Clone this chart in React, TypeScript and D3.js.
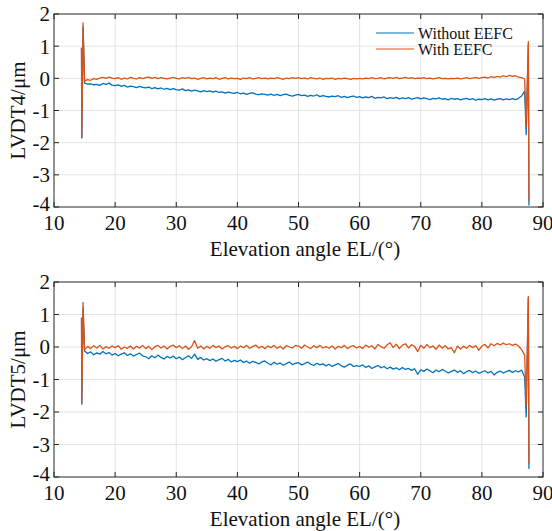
import React from 'react';
import * as d3 from 'd3';

const W = 552;
const H = 531;
const X_TICKS = [10, 20, 30, 40, 50, 60, 70, 80, 90];
const Y_TICKS = [-4, -3, -2, -1, 0, 1, 2];
const SERIES_NAMES = ['Without EEFC', 'With EEFC'];
const COLORS = ['#0072BD', '#D95319'];

// sampling grid of the flat part (15° .. 87°, every 0.5°)
const SAMPLE_ANGLES: number[] = d3.range(15, 87.001, 0.5);
const START_ANGLES = [14.5, 14.55, 14.75];
const END_ANGLES = [87.25, 87.6, 87.7];

// ---- LVDT4 ----
const T4_WITHOUT_START = [0.95, -1.85, 1.6];
const T4_WITHOUT = [
  -0.15, -0.18, -0.17, -0.2, -0.19, -0.22, -0.16, -0.19, -0.15, -0.21,
  -0.23, -0.2, -0.25, -0.22, -0.27, -0.24, -0.26, -0.29, -0.25, -0.28,
  -0.3, -0.27, -0.32, -0.29, -0.33, -0.3, -0.34, -0.31, -0.35, -0.32,
  -0.35, -0.37, -0.33, -0.38, -0.36, -0.4, -0.37, -0.39, -0.42, -0.38,
  -0.41, -0.39, -0.43, -0.4, -0.44, -0.42, -0.46, -0.43, -0.45, -0.47,
  -0.44, -0.48, -0.46, -0.5, -0.47, -0.45, -0.49, -0.51, -0.48, -0.5,
  -0.52, -0.49, -0.53, -0.5, -0.54, -0.51, -0.49, -0.53, -0.55, -0.52,
  -0.5, -0.54, -0.52, -0.56, -0.53, -0.55, -0.51, -0.57, -0.54, -0.56,
  -0.58, -0.55, -0.57, -0.54, -0.59, -0.56, -0.6, -0.57, -0.55, -0.59,
  -0.57, -0.61, -0.58, -0.6, -0.56, -0.62, -0.59, -0.61, -0.58, -0.63,
  -0.6, -0.62, -0.59, -0.64, -0.61, -0.63, -0.6, -0.65, -0.62, -0.6,
  -0.64, -0.61, -0.63, -0.66, -0.62, -0.64, -0.61, -0.65, -0.63, -0.67,
  -0.62, -0.65, -0.63, -0.67, -0.64, -0.62, -0.66, -0.63, -0.68, -0.65,
  -0.66, -0.63, -0.67, -0.64, -0.68, -0.65, -0.63, -0.67, -0.64, -0.66,
  -0.63, -0.66, -0.62, -0.55, -0.4,
];
const T4_WITHOUT_END = [-1.75, 1.05, -3.95];

const T4_WITH_START = [0.95, -1.85, 1.72];
const T4_WITH = [
  -0.08, -0.04, -0.06, -0.01, -0.03, 0.01, 0.03, 0.0, 0.04, 0.01,
  -0.01, 0.02, -0.03, 0.01, -0.02, 0.03, 0.0, -0.02, 0.02, -0.01,
  0.02, 0.04, 0.0, 0.03, -0.01, 0.02, 0.0, -0.02, 0.01, 0.03,
  0.0, -0.02, 0.02, 0.0, 0.03, -0.01, 0.01, -0.03, 0.0, 0.02,
  -0.02, 0.01, -0.01, 0.02, -0.03, 0.0, 0.02, -0.02, 0.01, -0.01,
  0.0, -0.03, 0.01, -0.01, 0.02, -0.02, 0.0, 0.02, -0.01, 0.01,
  -0.02, 0.01, -0.01, 0.02, 0.0, -0.03, 0.01, -0.01, 0.02, 0.0,
  0.02, -0.01, 0.01, -0.02, 0.02, 0.0, -0.02, 0.01, -0.03, 0.0,
  -0.01, 0.01, -0.03, 0.0, -0.02, 0.01, -0.01, -0.03, 0.0, -0.02,
  0.0, -0.02, 0.01, -0.01, 0.02, -0.01, 0.0, 0.02, -0.02, 0.01,
  0.02, 0.0, 0.03, -0.01, 0.01, 0.03, 0.0, 0.02, -0.01, 0.01,
  0.0, 0.02, -0.01, 0.01, -0.02, 0.0, 0.02, -0.01, 0.0, -0.02,
  0.0, -0.01, 0.01, -0.02, 0.0, 0.02, -0.01, 0.01, 0.03, 0.0,
  0.02, 0.04, 0.01, 0.05, 0.03, 0.06, 0.04, 0.08, 0.05, 0.09,
  0.06, 0.08, 0.04, 0.02, -0.02,
];
const T4_WITH_END = [-1.5, 1.14, -3.8];

// ---- LVDT5 ----
const T5_WITHOUT_START = [0.9, -1.75, 1.2];
const T5_WITHOUT = [
  -0.12, -0.2, -0.15, -0.24, -0.18, -0.22, -0.14, -0.21, -0.17, -0.25,
  -0.2, -0.27, -0.22, -0.18, -0.26, -0.21, -0.28, -0.23, -0.19, -0.27,
  -0.3, -0.36, -0.27, -0.33, -0.25, -0.32, -0.37, -0.29, -0.34, -0.28,
  -0.36, -0.31, -0.39, -0.33, -0.27, -0.35, -0.22, -0.38, -0.32, -0.4,
  -0.36, -0.42, -0.37, -0.44, -0.39, -0.35, -0.43, -0.38, -0.46, -0.41,
  -0.45, -0.4, -0.48, -0.43, -0.5, -0.44, -0.47, -0.52, -0.46, -0.43,
  -0.5, -0.55, -0.47, -0.53, -0.49, -0.56, -0.51, -0.46, -0.54, -0.5,
  -0.48, -0.55, -0.51, -0.46, -0.53, -0.57, -0.5, -0.55, -0.52, -0.58,
  -0.53, -0.6, -0.55, -0.51, -0.58, -0.62, -0.56, -0.52, -0.6, -0.57,
  -0.6, -0.55, -0.63, -0.58, -0.66, -0.61, -0.57, -0.64, -0.6, -0.67,
  -0.62, -0.68, -0.64, -0.7, -0.63, -0.69, -0.66, -0.72, -0.67, -0.84,
  -0.7, -0.75, -0.68, -0.73, -0.79, -0.71, -0.76, -0.69, -0.74, -0.8,
  -0.75, -0.71, -0.78, -0.73, -0.82, -0.76, -0.72, -0.79, -0.74, -0.81,
  -0.77, -0.73, -0.8, -0.75, -0.86, -0.78, -0.74, -0.8, -0.76, -0.72,
  -0.78, -0.73, -0.77, -0.71, -0.92,
];
const T5_WITHOUT_END = [-2.15, 1.5, -3.75];

const T5_WITH_START = [0.9, -1.75, 1.37];
const T5_WITH = [
  -0.08, 0.02, -0.05, 0.04, -0.03, 0.05, -0.06, 0.01, -0.04, 0.03,
  -0.02, 0.04, -0.07, 0.0, -0.04, 0.03, -0.06, 0.02, -0.03, 0.05,
  -0.05, 0.02, -0.08, 0.01, 0.05, -0.03, 0.03, -0.06, 0.02, 0.06,
  -0.02, 0.04, -0.05, 0.03, -0.07, 0.01, 0.2, -0.04, 0.03, -0.06,
  0.02, -0.04, 0.05, -0.02, 0.03, -0.06, 0.01, 0.04, -0.03, 0.02,
  -0.05, 0.03, -0.02, 0.05, -0.04, 0.01, 0.06, -0.03, 0.02, -0.05,
  0.03, -0.02, 0.05, -0.04, 0.02, -0.06, 0.04, 0.0, -0.03, 0.05,
  0.03, -0.04, 0.06, 0.0, -0.05, 0.04, -0.02, 0.05, -0.03, 0.01,
  -0.04, 0.03, -0.06, 0.02, -0.02, 0.05, -0.05, 0.01, 0.04, -0.03,
  0.02, -0.05, 0.06, -0.01, 0.04, -0.06, 0.08, 0.01, -0.04, 0.07,
  0.13, -0.02, 0.09, -0.05, 0.06, 0.1, -0.03, 0.07, 0.02, -0.14,
  0.05, -0.04, 0.08, -0.02, 0.03, -0.07, 0.06, -0.03, 0.04, -0.06,
  -0.02, -0.18, 0.03, -0.06, 0.02, -0.04, 0.05, -0.02, 0.04, -0.1,
  0.03, 0.08, -0.03, 0.1, 0.04, 0.11, 0.06, 0.12, 0.07, 0.1,
  0.05, 0.09, 0.03, -0.08, -0.25,
];
const T5_WITH_END = [-1.8, 1.55, -3.6];

const FONT = "'Liberation Serif', 'Times New Roman', serif";
const AXIS_COLOR = '#262626';
const GRID_COLOR = '#e3e3e3';

type Pt = [number, number];

function buildSeries(start: number[], mid: number[], end: number[]): Pt[] {
  const pts: Pt[] = [];
  START_ANGLES.forEach((a, i) => pts.push([a, start[i]]));
  SAMPLE_ANGLES.forEach((a, i) => pts.push([a, mid[i]]));
  END_ANGLES.forEach((a, i) => pts.push([a, end[i]]));
  return pts;
}

interface PanelProps {
  top: number;
  bottom: number;
  ylabel: string;
  series: Pt[][];
  legend: boolean;
}

const LEFT = 54;
const RIGHT = 543;

function Panel({ top, bottom, ylabel, series, legend }: PanelProps) {
  const x = d3.scaleLinear().domain([10, 90]).range([LEFT, RIGHT]);
  const y = d3.scaleLinear().domain([-4, 2]).range([bottom, top]);
  const line = d3
    .line<Pt>()
    .x((d) => x(d[0]))
    .y((d) => y(d[1]));
  const tick = 5;
  return (
    <g>
      {/* grid */}
      {X_TICKS.slice(1, -1).map((t) => (
        <line key={'gx' + t} x1={x(t)} x2={x(t)} y1={top} y2={bottom} stroke={GRID_COLOR} strokeWidth={1} />
      ))}
      {Y_TICKS.slice(1, -1).map((t) => (
        <line key={'gy' + t} x1={LEFT} x2={RIGHT} y1={y(t)} y2={y(t)} stroke={GRID_COLOR} strokeWidth={1} />
      ))}
      {/* data */}
      {series.map((s, i) => (
        <path key={'s' + i} d={line(s) || ''} fill="none" stroke={COLORS[i]} strokeWidth={1.3} strokeLinejoin="round" />
      ))}
      {/* box */}
      <rect x={LEFT} y={top} width={RIGHT - LEFT} height={bottom - top} fill="none" stroke={AXIS_COLOR} strokeWidth={1} />
      {/* ticks */}
      {X_TICKS.map((t) => (
        <g key={'tx' + t}>
          <line x1={x(t)} x2={x(t)} y1={bottom} y2={bottom - tick} stroke={AXIS_COLOR} />
          <line x1={x(t)} x2={x(t)} y1={top} y2={top + tick} stroke={AXIS_COLOR} />
          <text x={x(t)} y={bottom + 23} textAnchor="middle" fontFamily={FONT} fontSize={21} fill="#111">
            {t}
          </text>
        </g>
      ))}
      {Y_TICKS.map((t) => (
        <g key={'ty' + t}>
          <line x1={LEFT} x2={LEFT + tick} y1={y(t)} y2={y(t)} stroke={AXIS_COLOR} />
          <line x1={RIGHT} x2={RIGHT - tick} y1={y(t)} y2={y(t)} stroke={AXIS_COLOR} />
          <text
            x={LEFT - 4}
            y={y(t) - (t === -4 ? 3 : 0)}
            dy="0.35em"
            textAnchor="end"
            fontFamily={FONT}
            fontSize={21}
            fill="#111"
          >
            {t}
          </text>
        </g>
      ))}
      <text x={305} y={bottom + 49} textAnchor="middle" fontFamily={FONT} fontSize={21} fill="#111">
        Elevation angle EL/(°)
      </text>
      <text
        transform={`translate(25,${(top + bottom) / 2}) rotate(-90)`}
        textAnchor="middle"
        fontFamily={FONT}
        fontSize={21}
        fill="#111"
      >
        {ylabel}
      </text>
      {legend && (
        <g>
          {SERIES_NAMES.map((n, i) => (
            <g key={n}>
              <line x1={376} x2={414} y1={top + 19 + i * 16} y2={top + 19 + i * 16} stroke={COLORS[i]} strokeWidth={1.2} />
              <text x={418} y={top + 19 + i * 16} dy="0.35em" fontFamily={FONT} fontSize={16} fill="#111">
                {n}
              </text>
            </g>
          ))}
        </g>
      )}
    </g>
  );
}

export default function App() {
  const top4 = [
    buildSeries(T4_WITHOUT_START, T4_WITHOUT, T4_WITHOUT_END),
    buildSeries(T4_WITH_START, T4_WITH, T4_WITH_END),
  ];
  const top5 = [
    buildSeries(T5_WITHOUT_START, T5_WITHOUT, T5_WITHOUT_END),
    buildSeries(T5_WITH_START, T5_WITH, T5_WITH_END),
  ];
  return (
    <svg
      width={W}
      height={H}
      viewBox={`0 0 ${W} ${H}`}
      style={{ position: 'absolute', left: 0, top: 0, background: '#fff' }}
    >
      <rect width={W} height={H} fill="#fff" />
      <Panel top={14} bottom={207} ylabel="LVDT4/μm" series={top4} legend={true} />
      <Panel top={282} bottom={477} ylabel="LVDT5/μm" series={top5} legend={false} />
    </svg>
  );
}
